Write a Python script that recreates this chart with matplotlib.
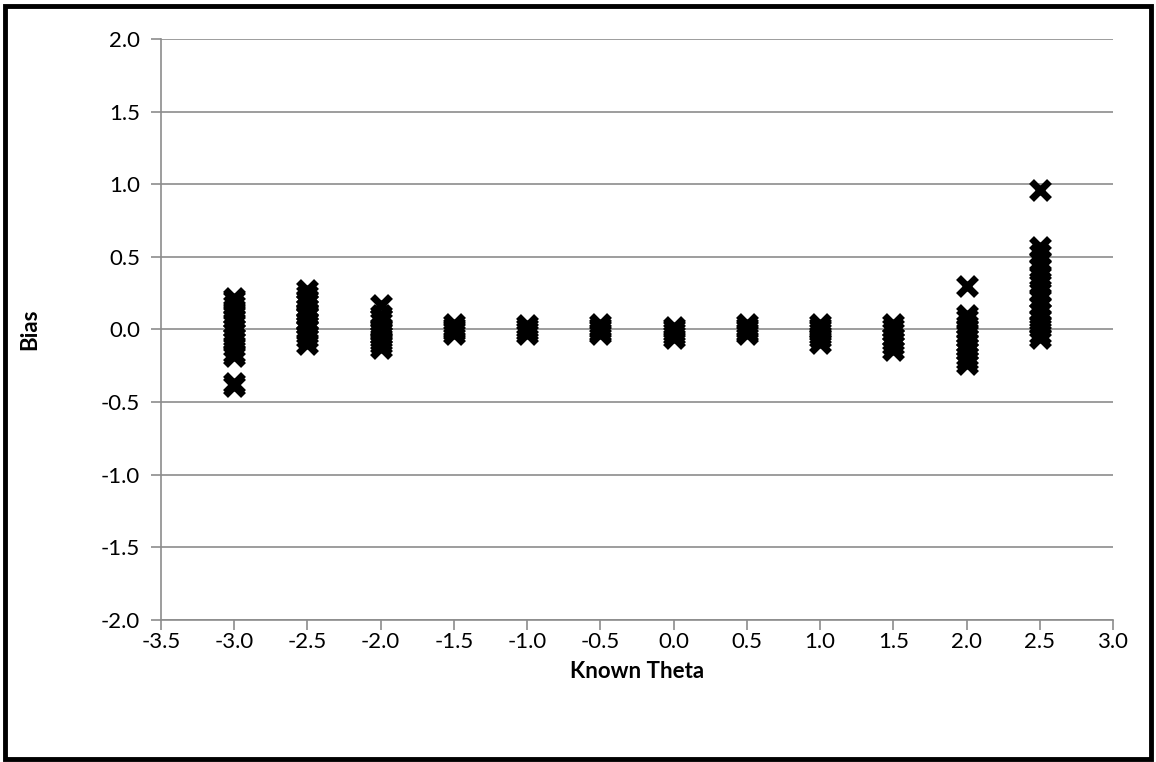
import matplotlib
matplotlib.use("Agg")
import matplotlib.pyplot as plt
from matplotlib.patches import Rectangle

plt.rcParams['font.family'] = ['Lato', 'DejaVu Sans']

theta_levels = [-3.0, -2.5, -2.0, -1.5, -1.0, -0.5, 0.0, 0.5, 1.0, 1.5, 2.0, 2.5]
bias_m30 = [0.22, 0.20, 0.17, 0.14, 0.10, 0.07, 0.04, 0.01, -0.02, -0.05, -0.08, -0.12, -0.16, -0.18, -0.37, -0.39]
bias_m25 = [0.27, 0.24, 0.21, 0.20, 0.18, 0.15, 0.12, 0.10, 0.09, 0.06, 0.05, 0.03, 0.0, -0.03, -0.06, -0.10]
bias_m20 = [0.17, 0.10, 0.08, 0.05, 0.02, 0.0, -0.02, -0.04, -0.06, -0.08, -0.10, -0.13]
bias_m15 = [0.04, 0.02, 0.0, -0.01, -0.03]
bias_m10 = [0.03, 0.01, -0.01, -0.03]
bias_m05 = [0.04, 0.02, 0.0, -0.02, -0.03]
bias_00 = [0.02, 0.0, -0.02, -0.04, -0.06]
bias_05 = [0.04, 0.02, 0.0, -0.02, -0.03]
bias_10 = [0.04, 0.02, 0.0, -0.02, -0.04, -0.06, -0.09]
bias_15 = [0.04, 0.01, -0.02, -0.05, -0.08, -0.11, -0.14]
bias_20 = [0.30, 0.10, 0.07, 0.03, 0.0, -0.03, -0.06, -0.09, -0.12, -0.15, -0.18, -0.21, -0.24]
bias_25 = [0.96, 0.57, 0.52, 0.47, 0.42, 0.37, 0.31, 0.26, 0.21, 0.16, 0.12, 0.08, 0.04, 0.01, -0.03, -0.06]
all_bias = [bias_m30, bias_m25, bias_m20, bias_m15, bias_m10, bias_m05,
            bias_00, bias_05, bias_10, bias_15, bias_20, bias_25]

x_ticks = [-3.5, -3.0, -2.5, -2.0, -1.5, -1.0, -0.5, 0.0, 0.5, 1.0, 1.5, 2.0, 2.5, 3.0]
y_ticks = [-2.0, -1.5, -1.0, -0.5, 0.0, 0.5, 1.0, 1.5, 2.0]

fig = plt.figure(figsize=(11.56, 7.62), dpi=100)
ax = fig.add_axes([161/1156, 1-620/762, (1113-161)/1156, (620-39)/762])

for th, vals in zip(theta_levels, all_bias):
    ax.plot([th]*len(vals), vals, linestyle='none', marker='x',
            markersize=13, markeredgewidth=5, color='black', zorder=3)

ax.set_xlim(-3.5, 3.0)
ax.set_ylim(-2.0, 2.0)
ax.set_xticks(x_ticks)
ax.set_yticks(y_ticks)
ax.set_xticklabels([f"{v:.1f}" for v in x_ticks])
ax.set_yticklabels([f"{v:.1f}" for v in y_ticks])
ax.yaxis.grid(True, color='#8c8c8c', linewidth=1.2, zorder=0)
ax.set_axisbelow(True)
for s in ['top', 'right']:
    ax.spines[s].set_visible(False)
for s in ['left', 'bottom']:
    ax.spines[s].set_color('#8c8c8c')
    ax.spines[s].set_linewidth(1.2)
ax.tick_params(axis='both', direction='out', length=7, width=1.2, color='#8c8c8c',
               labelsize=16, colors='black')
ax.tick_params(axis='x', pad=2)
ax.tick_params(axis='y', pad=8)
ax.set_xlabel("Known Theta", fontsize=16, fontweight='bold', labelpad=6)
ax.set_ylabel("Bias", fontsize=16, fontweight='bold', labelpad=44)

fig.patches.append(Rectangle((0.004, 0.004), 0.992, 0.988, transform=fig.transFigure,
                             fill=False, edgecolor='black', linewidth=3.5))

fig.savefig("out.png", dpi=100)
